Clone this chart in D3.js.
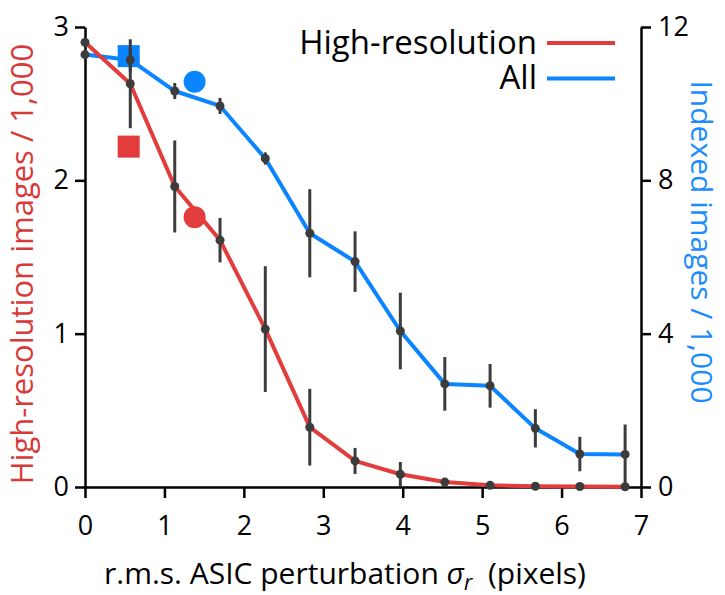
<!DOCTYPE html>
<html>
<head>
<meta charset="utf-8">
<script src="https://cdn.jsdelivr.net/npm/d3@7"></script>
<style>
  body { margin: 0; background: #fff; }
  svg { font-family: "Open Sans", sans-serif; }
</style>
</head>
<body>
<svg id="chart" width="725" height="595"></svg>
<script>
// sigma_r values (pixels)
const sigma = [0, 0.57, 1.13, 1.7, 2.27, 2.83, 3.4, 3.97, 4.53, 5.1, 5.67, 6.23, 6.8];
// high-resolution images / 1,000 (left axis)
const hiRes = [2.90, 2.63, 1.96, 1.61, 1.03, 0.39, 0.17, 0.083, 0.032, 0.011, 0.005, 0.003, 0.002];
const hiResErr = [0, 0.29, 0.30, 0.145, 0.41, 0.25, 0.085, 0.08, 0.02, 0, 0, 0, 0];
// all indexed images / 1,000 (right axis)
const allIdx = [11.28, 11.14, 10.33, 9.94, 8.57, 6.62, 5.88, 4.07, 2.69, 2.64, 1.53, 0.86, 0.85];
const allErr = [0, 0.3, 0.21, 0.21, 0.16, 1.15, 0.79, 1.0, 0.70, 0.57, 0.50, 0.45, 0.78];
// reference markers
const hiResRef = [{x: 0.55, y: 2.22, shape: "square"}, {x: 1.38, y: 1.76, shape: "circle"}];
const allRef = [{x: 0.55, y: 11.24, shape: "square"}, {x: 1.38, y: 10.57, shape: "circle"}];

const xTicks = [0, 1, 2, 3, 4, 5, 6, 7];
const leftTicks = [0, 1, 2, 3];
const rightTicks = [0, 4, 8, 12];

const red = "#e23c3c", blue = "#0a84ff", dark = "#3c3c3c";

const margin = {top: 27, right: 84, bottom: 108, left: 85};
const width = 725 - margin.left - margin.right;
const height = 595 - margin.top - margin.bottom;

const svg = d3.select("#chart");
const g = svg.append("g").attr("transform", "translate(" + margin.left + "," + margin.top + ")");

const x = d3.scaleLinear().domain([0, 7]).range([0, width]);
const yL = d3.scaleLinear().domain([0, 3]).range([height, 0]);
const yR = d3.scaleLinear().domain([0, 12]).range([height, 0]);

// axes
function styleAxis(sel) {
  sel.selectAll(".domain").attr("stroke", "#000").attr("stroke-width", 2.5);
  sel.selectAll(".tick line").attr("stroke", "#000").attr("stroke-width", 2.5);
  sel.selectAll(".tick text").attr("font-size", 27).attr("fill", "#000").attr("font-family", "Open Sans");
}

g.append("g")
  .attr("transform", "translate(0," + height + ")")
  .call(d3.axisBottom(x).tickValues(xTicks).tickFormat(d3.format("d"))
    .tickSize(11).tickSizeOuter(0).tickPadding(18))
  .call(styleAxis);

g.append("g")
  .call(d3.axisLeft(yL).tickValues(leftTicks).tickFormat(d3.format("d"))
    .tickSize(10).tickSizeOuter(0).tickPadding(6))
  .call(styleAxis);

g.append("g")
  .attr("transform", "translate(" + width + ",0)")
  .call(d3.axisRight(yR).tickValues(rightTicks).tickFormat(d3.format("d"))
    .tickSize(10).tickSizeOuter(0).tickPadding(7))
  .call(styleAxis);

// series lines
const lineL = d3.line().x((d, i) => x(sigma[i])).y(d => yL(d));
const lineR = d3.line().x((d, i) => x(sigma[i])).y(d => yR(d));

g.append("path").datum(allIdx).attr("fill", "none").attr("stroke", blue)
  .attr("stroke-width", 4).attr("stroke-linejoin", "round").attr("d", lineR);
g.append("path").datum(hiRes).attr("fill", "none").attr("stroke", red)
  .attr("stroke-width", 4).attr("stroke-linejoin", "round").attr("d", lineL);

// reference markers
function drawRef(data, yScale, color) {
  data.forEach(d => {
    if (d.shape === "square") {
      g.append("rect").attr("x", x(d.x) - 11).attr("y", yScale(d.y) - 11)
        .attr("width", 22).attr("height", 22).attr("fill", color);
    } else {
      g.append("circle").attr("cx", x(d.x)).attr("cy", yScale(d.y)).attr("r", 11).attr("fill", color);
    }
  });
}
drawRef(allRef, yR, blue);
drawRef(hiResRef, yL, red);

// error bars
function drawErr(vals, errs, yScale) {
  g.append("g").selectAll("line").data(vals).join("line")
    .attr("x1", (d, i) => x(sigma[i])).attr("x2", (d, i) => x(sigma[i]))
    .attr("y1", (d, i) => yScale(d - errs[i])).attr("y2", (d, i) => yScale(d + errs[i]))
    .attr("stroke", dark).attr("stroke-width", 3);
}
drawErr(allIdx, allErr, yR);
drawErr(hiRes, hiResErr, yL);

// points
function drawDots(vals, yScale) {
  g.append("g").selectAll("circle").data(vals).join("circle")
    .attr("cx", (d, i) => x(sigma[i])).attr("cy", d => yScale(d))
    .attr("r", 4.5).attr("fill", dark);
}
drawDots(allIdx, yR);
drawDots(hiRes, yL);

// legend
const legend = [{name: "High-resolution", color: red}, {name: "All", color: blue}];
legend.forEach((d, i) => {
  const ly = 43 + i * 35.6;
  svg.append("line").attr("x1", 547).attr("x2", 615).attr("y1", ly).attr("y2", ly)
    .attr("stroke", d.color).attr("stroke-width", 4);
  svg.append("text").attr("x", 537).attr("y", ly + 10.5).attr("text-anchor", "end")
    .attr("font-size", 33).attr("fill", "#000").text(d.name);
});

// axis titles
const xt = svg.append("text").attr("x", 345).attr("y", 584).attr("text-anchor", "middle")
  .attr("font-size", 30).attr("fill", "#000");
xt.append("tspan").text("r.m.s. ASIC perturbation ");
xt.append("tspan").attr("font-style", "italic").text("σ");
xt.append("tspan").attr("font-style", "italic").attr("font-size", 21).attr("dy", 6).text("r");
xt.append("tspan").attr("dy", -6).text("\u00a0 (pixels)");

svg.append("text")
  .attr("transform", "translate(33,264) rotate(-90)")
  .attr("text-anchor", "middle").attr("font-size", 31).attr("fill", "#d83a3a")
  .text("High-resolution images / 1,000");

svg.append("text")
  .attr("transform", "translate(691,242) rotate(90)")
  .attr("text-anchor", "middle").attr("font-size", 30).attr("fill", "#1a8cff")
  .text("Indexed images / 1,000");
</script>
</body>
</html>
